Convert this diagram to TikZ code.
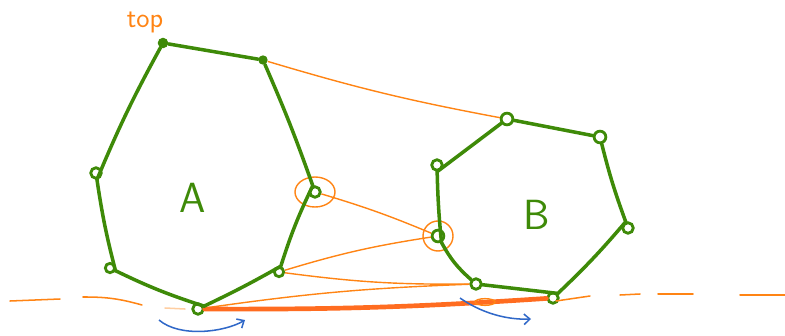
\documentclass[tikz,border=0pt]{standalone}
\usetikzlibrary{arrows.meta}
\definecolor{leaf}{RGB}{62,138,8}
\definecolor{peel}{RGB}{255,132,20}
\definecolor{road}{RGB}{255,108,32}
\definecolor{sky}{RGB}{48,104,200}
\tikzset{
  vert/.style={circle,draw=leaf,line width=2.4pt,inner sep=0pt,minimum size=9pt},
  blob/.style={circle,fill=leaf,inner sep=0pt,minimum size=9pt},
  edge/.style={leaf,line width=3pt,line cap=round},
  link/.style={peel,line width=1.2pt},
  ground/.style={peel,line width=1.3pt,line cap=round},
  turn/.style={sky,line width=1.3pt,-{Straight Barb[length=5pt,width=9pt]}},
  tag/.style={font=\sffamily\fontsize{36}{36}\selectfont,text=leaf}
}
\begin{document}
\begin{tikzpicture}[x=0.03cm,y=-0.03cm]
\useasboundingbox (0,0) rectangle (785,335);
% polygon A
\node[blob] (a1) at (163,43) {};
\node[blob,minimum size=8pt] (a2) at (263,60) {};
\node[vert] (a3) at (315,192) {};
\node[vert,minimum size=8pt] (a4) at (279,272) {};
\node[vert] (a5) at (198,309) {};
\node[vert,minimum size=8pt] (a6) at (110,268) {};
\node[vert] (a7) at (96,173) {};
% polygon B
\node[vert,minimum size=10pt] (b1) at (507,119) {};
\node[vert,minimum size=10pt] (b2) at (600,137) {};
\node[vert] (b3) at (628,228) {};
\node[vert] (b4) at (553,298) {};
\node[vert] (b5) at (476,284) {};
\node[vert,minimum size=10pt] (b6) at (438,236) {};
\node[vert] (b7) at (437,165) {};
% ground line
\draw[ground] (10,301) -- (60,299);
\draw[ground] (83,297) to[bend left=8] (142,305);
\draw[ground,peel!40] (165,308) -- (185,309);
\draw[ground] (556,301) -- (590,296);
\draw[ground] (620,295) -- (640,294);
\draw[ground] (658,294) -- (693,294);
\draw[ground] (740,295) -- (785,295);
% orange links
\draw[link] (a2) to[bend right=3] (b1);
\draw[link] (a3) to[bend left=3] (b6);
\draw[link] (a4) to[bend left=4] (b6);
\draw[link] (a4) to[bend right=4] (b5);
\draw[link] (a5) to[bend left=3] (b5);
\draw[road,line width=4pt,line cap=round] (a5) to[bend right=2] (b4);
\draw[link] (a3) ellipse [x radius=0.6cm,y radius=0.45cm];
\draw[link] (b6) ellipse [x radius=0.45cm,y radius=0.45cm];
\draw[link] (485,302) ellipse [x radius=0.3cm,y radius=0.1cm];
% green edges
\draw[edge] (a1) -- (a2) to[bend left=2] (a3) to[bend right=4] (a4)
  to[bend left=2] (a5) to[bend left=4] (a6) to[bend left=3] (a7) to[bend left=3] (a1);
\draw[edge] (b1) -- (b2) to[bend right=3] (b3) to[bend left=3] (b4)
  -- (b5) to[bend left=10] (b6) to[bend left=2] (b7) -- (b1);
% labels
\node[tag] (la) at (193,198) {A};
\node[tag] (lb) at (537,215) {B};
\node[text=peel,font=\sffamily\fontsize{24}{24}\selectfont] (lt) at (145,22) {top};
% turning arrows
\coordinate (sa) at (159,320);
\coordinate (ea) at (245,320);
\coordinate (sb) at (460,298);
\coordinate (eb) at (531,319);
\draw[turn] (sa) .. controls (180,338) and (225,332) .. (ea);
\draw[turn] (sb) .. controls (480,312) and (505,320) .. (eb);
\end{tikzpicture}
\end{document}
